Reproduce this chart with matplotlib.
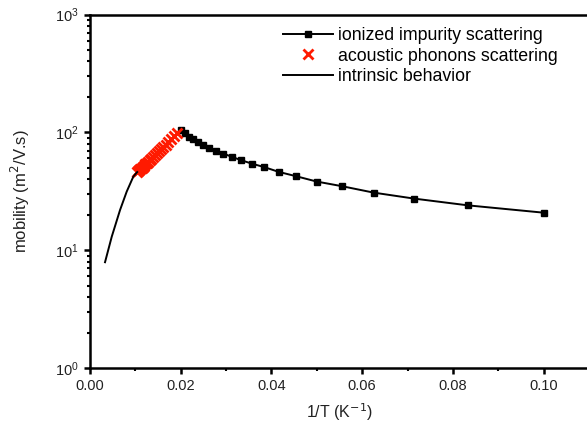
import matplotlib
matplotlib.use("Agg")
import matplotlib.pyplot as plt
import numpy as np
from matplotlib.ticker import MultipleLocator, LogLocator, NullFormatter

plt.rcParams['font.family'] = ['Liberation Sans', 'DejaVu Sans']

# ionized impurity scattering: T = 10..50 K (step 2)
T_imp = [10, 12, 14, 16, 18, 20, 22, 24, 26, 28, 30, 32, 34, 36, 38, 40, 42, 44, 46, 48, 50]
mu_imp = [20.8, 24.0, 27.4, 30.8, 34.9, 38.2, 42.4, 46.1, 50.6, 54.2, 58.0, 62.0,
          66.0, 70.0, 74.0, 78.5, 83.0, 87.5, 92.0, 98.0, 104.0]

# acoustic phonons scattering: T = 52..96 K (step 2)
T_ac = [52, 54, 56, 58, 60, 62, 64, 66, 68, 70, 72, 74, 76, 78, 80, 82, 84, 86, 88, 90, 92, 94, 96]
mu_ac = [98.4, 92.5, 87.3, 82.8, 78.8, 75.2, 72.0, 69.1, 66.5, 64.1, 61.9, 59.9,
         58.1, 56.5, 54.9, 53.5, 52.1, 50.9, 49.7, 48.6, 47.6, 46.7, 45.8]

# intrinsic behavior
x_int = [0.00331, 0.00479, 0.00662, 0.00809, 0.00955, 0.0104]
mu_int = [7.9, 13.0, 21.9, 31.4, 42.1, 46.0]

x_imp = 1.0 / np.array(T_imp)
x_ac = 1.0 / np.array(T_ac)

fig = plt.figure(figsize=(5.87, 4.25), dpi=100)
ax = fig.add_axes([90 / 587, 57 / 425, 499 / 587, 353.5 / 425])

ax.plot(x_imp, mu_imp, color='black', lw=1.4, marker='s', ms=3.8,
        label='ionized impurity scattering')
ax.plot(x_ac, mu_ac, ls='none', marker='x', color='#ff1a00', ms=7, mew=2,
        label='acoustic phonons scattering')
ax.plot(x_int, mu_int, color='black', lw=1.4, label='intrinsic behavior')

ax.set_yscale('log')
ax.set_xlim(0, 0.11)
ax.set_ylim(1, 1000)
ax.xaxis.set_major_locator(MultipleLocator(0.02))
ax.xaxis.set_minor_locator(MultipleLocator(0.01))
ax.xaxis.set_major_formatter(matplotlib.ticker.FormatStrFormatter('%.2f'))
ax.yaxis.set_major_locator(LogLocator(base=10, numticks=10))
ax.yaxis.set_minor_locator(LogLocator(base=10, subs=np.arange(2, 10), numticks=10))
ax.yaxis.set_minor_formatter(NullFormatter())

for s in ax.spines.values():
    s.set_linewidth(1.8)
ax.tick_params(which='major', direction='out', length=4, width=1.8,
               labelsize=10.5, colors='black', labelcolor='#222222', pad=4)
ax.tick_params(which='minor', direction='out', length=2.5, width=1.5)

ax.set_xlabel('1/T (K$^{-1}$)', fontsize=11.5, color='#222222', labelpad=6)
ax.set_ylabel('mobility (m$^2$/V.s)', fontsize=12, color='#222222', labelpad=17)

ax.legend(loc='upper left', bbox_to_anchor=(283 / 587, 1 - 27 / 425),
          bbox_transform=fig.transFigure, frameon=False, fontsize=12.8,
          numpoints=1, handlelength=2.8, handletextpad=0.3,
          borderpad=0, borderaxespad=0, labelspacing=0.2)

fig.savefig('out.png', dpi=100)
